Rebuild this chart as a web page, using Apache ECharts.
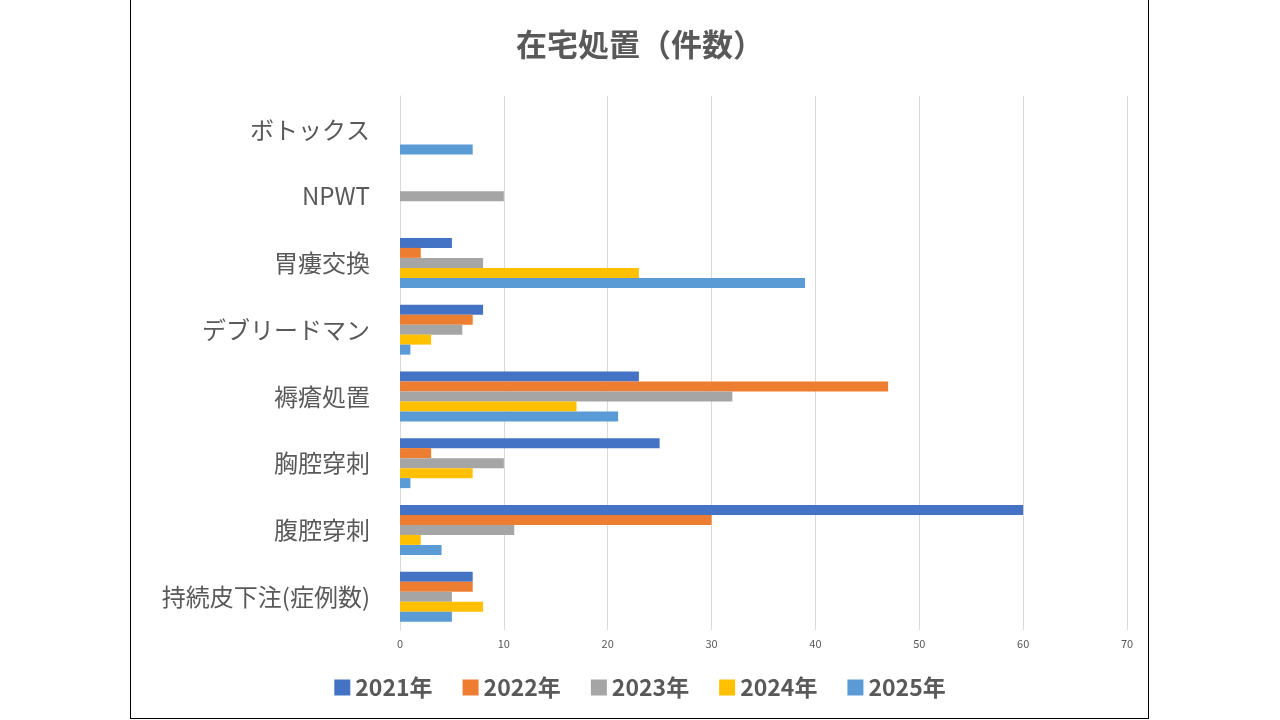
<!DOCTYPE html>
<html><head><meta charset="utf-8">
<script src="https://cdn.jsdelivr.net/npm/echarts@6/dist/echarts.min.js"></script>
<style>html,body{margin:0;padding:0;background:#fff}
#frame{position:absolute;left:130px;top:0;width:1017px;height:718px;border:1px solid #000;border-top:none}
#c{position:absolute;left:0;top:0;width:1280px;height:720px}</style>
</head><body><div id="frame"></div><div id="c"></div>
<script>
const categories = ['ボトックス','NPWT','胃瘻交換','デブリードマン','褥瘡処置','胸腔穿刺','腹腔穿刺','持続皮下注(症例数)'];
const years = ['2021年','2022年','2023年','2024年','2025年'];
const v2021 = [null,null,5,8,23,25,60,7];
const v2022 = [null,null,2,7,47,3,30,7];
const v2023 = [null,10,8,6,32,10,11,5];
const v2024 = [null,null,23,3,17,7,2,8];
const v2025 = [7,null,39,1,21,1,4,5];
const colors = ['#4472C4','#ED7D31','#A5A5A5','#FFC000','#5B9BD5'];
const all = [v2021,v2022,v2023,v2024,v2025];
const chart = echarts.init(document.getElementById('c'));
chart.setOption({
  animation:false,
  textStyle:{fontFamily:'Noto Sans CJK JP'},
  title:{text:'在宅処置（件数）',left:'center',top:24,textStyle:{fontSize:31,fontWeight:'bold',color:'#595959'}},
  legend:{bottom:16,itemWidth:16,itemHeight:16,itemGap:30,icon:'rect',textStyle:{fontSize:23,fontWeight:'bold',color:'#595959'}},
  grid:{left:400,right:153,top:96,bottom:90,containLabel:false},
  xAxis:{type:'value',min:0,max:70,interval:10,axisLine:{show:false},axisTick:{show:false},
    axisLabel:{fontSize:11,color:'#595959'},splitLine:{lineStyle:{color:'#d9d9d9'}}},
  yAxis:{type:'category',data:categories,inverse:true,axisTick:{show:false},
    axisLine:{lineStyle:{color:'#d9d9d9'}},axisLabel:{fontSize:24,color:'#595959',margin:30}},
  series: years.map((y,i)=>({name:y,type:'bar',data:all[i],barWidth:10,barGap:'0%',barCategoryGap:'25%',itemStyle:{color:colors[i]}}))
});
</script></body></html>
